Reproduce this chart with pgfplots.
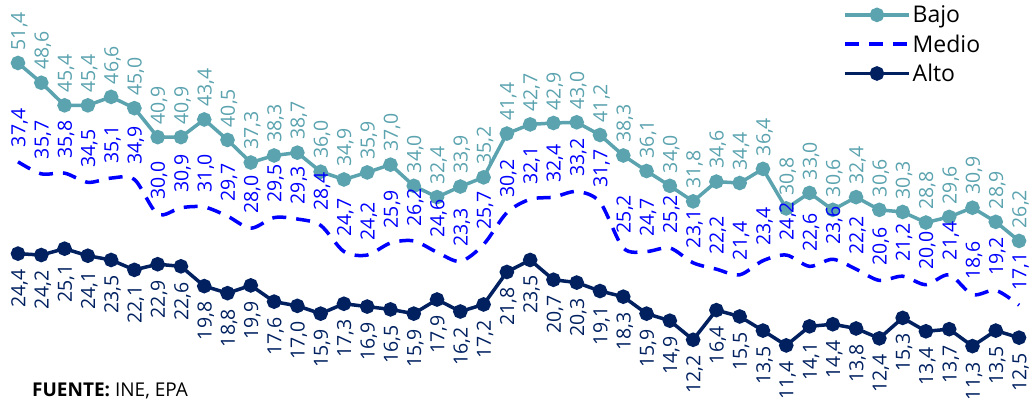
\documentclass[border=0pt]{standalone}
\usepackage{pgfplots}
\pgfplotsset{compat=1.18}
\usepackage{pgfplotstable}
\usepackage{fontspec}
\setmainfont{Open Sans}
\definecolor{bajo}{RGB}{91,163,175}
\definecolor{medio}{RGB}{0,0,255}
\definecolor{alto}{RGB}{0,32,96}

\pgfplotstableread{
x bajo medio alto
0 51.4 37.4 24.4
1 48.6 35.7 24.2
2 45.4 35.8 25.1
3 45.4 34.5 24.1
4 46.6 35.1 23.5
5 45.0 34.9 22.1
6 40.9 30.0 22.9
7 40.9 30.9 22.6
8 43.4 31.0 19.8
9 40.5 29.7 18.8
10 37.3 28.0 19.9
11 38.3 29.5 17.6
12 38.7 29.3 17.0
13 36.0 28.4 15.9
14 34.9 24.7 17.3
15 35.9 24.2 16.9
16 37.0 25.9 16.5
17 34.0 26.2 15.9
18 32.4 24.6 17.9
19 33.9 23.3 16.2
20 35.2 25.7 17.2
21 41.4 30.2 21.8
22 42.7 32.1 23.5
23 42.9 32.4 20.7
24 43.0 33.2 20.3
25 41.2 31.7 19.1
26 38.3 25.2 18.3
27 36.1 24.7 15.9
28 34.0 25.2 14.9
29 31.8 23.1 12.2
30 34.6 22.2 16.4
31 34.4 21.4 15.5
32 36.4 23.4 13.5
33 30.8 24.2 11.4
34 33.0 22.6 14.1
35 30.6 23.6 14.4
36 32.4 22.2 13.8
37 30.6 20.6 12.4
38 30.3 21.2 15.3
39 28.8 20.0 13.4
40 29.6 21.4 13.7
41 30.9 18.6 11.3
42 28.9 19.2 13.5
43 26.2 17.1 12.5
}\data

\begin{document}
\begin{tikzpicture}
\path[use as bounding box] (0,0) rectangle (1030bp,400bp);
\clip (0,0) rectangle (1030bp,400bp);
\begin{axis}[
  at={(0,0)}, anchor=south west,
  scale only axis, width=1030bp, height=400bp,
  xmin=-0.773, xmax=43.47, ymin=3.67, ymax=60.32,
  hide axis, clip=false,
  /pgf/number format/assume math mode=true,
  nodes near coords={\pgfmathprintnumber[fixed,fixed zerofill,precision=1,use comma]{\pgfplotspointmeta}},
  legend style={at={(843bp,396.5bp)}, anchor=north west, draw=none, fill=none,
    font=\fontsize{23bp}{27bp}\selectfont, row sep=6.5bp, inner sep=0pt,
    cells={anchor=west}},
  legend cell align=left,
  legend image code/.code={\draw[mark repeat=2,mark phase=2,#1] plot coordinates {(0bp,0bp) (32bp,0bp) (64bp,0bp)};},
]
\addplot[color=bajo, line width=3.5bp, mark=*, mark size=5.5bp, mark options={solid},
  nodes near coords style={xshift=1.5bp, rotate=90, anchor=west, inner xsep=11bp, inner ysep=0pt, text=bajo,
  font=\fontsize{19.5bp}{23bp}\selectfont}]
  table[x=x, y=bajo] {\data};
\addlegendentry{Bajo}
\addplot[color=medio, line width=3.5bp, smooth, dash pattern=on 14bp off 10bp, mark=none,
  nodes near coords style={xshift=1.5bp, rotate=90, anchor=west, inner xsep=13bp, inner ysep=0pt, text=medio,
  font=\fontsize{19.5bp}{23bp}\selectfont}]
  table[x=x, y=medio] {\data};
\addlegendentry{Medio}
\addplot[color=alto, line width=3.5bp, mark=*, mark size=5.5bp, mark options={solid},
  nodes near coords style={xshift=1.5bp, rotate=90, anchor=east, inner xsep=14bp, inner ysep=0pt, text=alto,
  font=\fontsize{19.5bp}{23bp}\selectfont}]
  table[x=x, y=alto] {\data};
\addlegendentry{Alto}
\end{axis}
\node[anchor=base west, inner sep=0pt, font=\fontsize{19bp}{22bp}\selectfont] at (32bp,4bp) {\textbf{FUENTE:} INE, EPA};
\end{tikzpicture}
\end{document}
